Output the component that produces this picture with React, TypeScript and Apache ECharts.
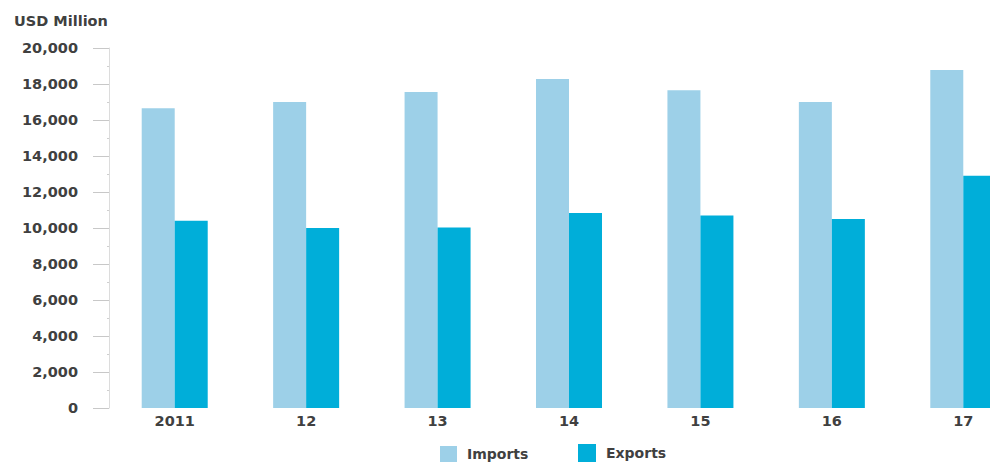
import React, { useEffect, useRef } from "react";
import * as echarts from "echarts";

const categories = ["2011", "12", "13", "14", "15", "16", "17"];
const imports = [16650, 17000, 17550, 18280, 17650, 17000, 18780];
const exportsData = [10400, 10000, 10030, 10830, 10700, 10500, 12900];
const yTicks = [0, 2000, 4000, 6000, 8000, 10000, 12000, 14000, 16000, 18000, 20000];

const FONT = "'DejaVu Sans', sans-serif";
const TEXT = "#404040";

export default function App() {
  const ref = useRef<HTMLDivElement>(null);
  useEffect(() => {
    if (!ref.current) return;
    const chart = echarts.init(ref.current, undefined, { renderer: "svg" });
    chart.setOption({
      animation: false,
      backgroundColor: "#ffffff",
      textStyle: { fontFamily: FONT },
      graphic: [
        {
          type: "text",
          x: 14,
          y: 20.5,
          style: {
            text: "USD Million",
            font: `bold 14.5px ${FONT}`,
            fill: TEXT,
            verticalAlign: "middle",
          },
        },
      ],
      legend: [
        {
          left: 440,
          top: 446,
          padding: 0,
          itemWidth: 17,
          itemHeight: 16,
          icon: "rect",
          textStyle: {
            fontFamily: FONT,
            fontSize: 14,
            fontWeight: "bold",
            color: TEXT,
            padding: [0, 0, 0, 5],
          },
          data: ["Imports"],
        },
        {
          left: 578,
          top: 444,
          padding: 0,
          itemWidth: 18,
          itemHeight: 18,
          icon: "rect",
          textStyle: {
            fontFamily: FONT,
            fontSize: 14,
            fontWeight: "bold",
            color: TEXT,
            padding: [0, 0, 0, 5],
          },
          data: ["Exports"],
        },
      ],
      grid: { left: 109, right: 1, top: 48, bottom: 54, containLabel: false },
      xAxis: {
        type: "category",
        data: categories,
        axisLine: { show: false },
        axisTick: { show: false },
        axisLabel: {
          margin: 5,
          fontFamily: FONT,
          fontSize: 14.5,
          fontWeight: "bold",
          color: TEXT,
        },
      },
      yAxis: {
        type: "value",
        min: yTicks[0],
        max: yTicks[yTicks.length - 1],
        interval: 2000,
        splitLine: { show: false },
        axisLine: { show: true, lineStyle: { color: "#dcdcdc", width: 1 } },
        axisTick: { show: true, length: 16, lineStyle: { color: "#c8c8c8", width: 1 } },
        minorTick: { show: true, splitNumber: 2, length: 2, lineStyle: { color: "#cfcfcf" } },
        axisLabel: {
          margin: 31,
          fontFamily: FONT,
          fontSize: 14.5,
          fontWeight: "bold",
          color: TEXT,
          formatter: (v: number) => v.toLocaleString("en-US"),
        },
      },
      series: [
        {
          name: "Imports",
          type: "bar",
          data: imports,
          barWidth: 33,
          barGap: "0%",
          itemStyle: { color: "#9dd0e8" },
        },
        {
          name: "Exports",
          type: "bar",
          data: exportsData,
          barWidth: 33,
          barGap: "0%",
          itemStyle: { color: "#00aed9" },
        },
      ],
    });
    return () => chart.dispose();
  }, []);
  return (
    <div
      style={{
        position: "fixed",
        left: 0,
        top: 0,
        width: 990,
        height: 462,
        overflow: "hidden",
        background: "#fff",
      }}
    >
      <div ref={ref} style={{ width: 1030, height: 462 }} />
    </div>
  );
}
